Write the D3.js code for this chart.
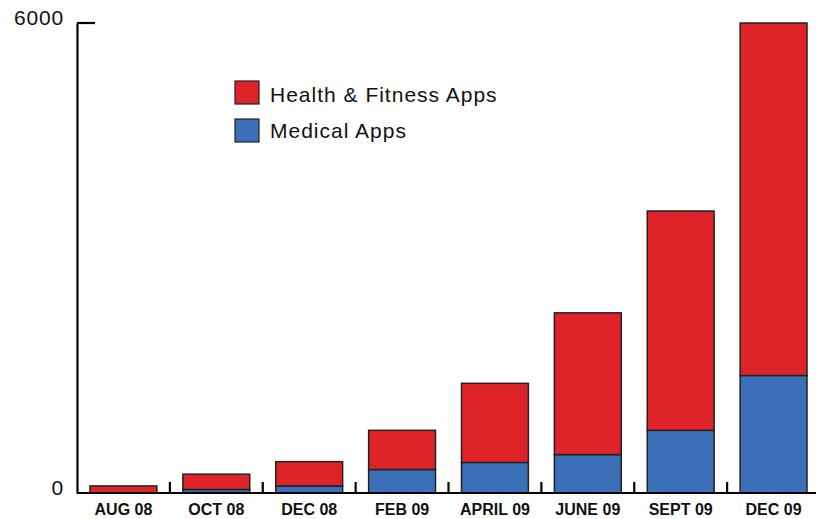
<!DOCTYPE html>
<html>
<head>
<meta charset="utf-8">
<script src="https://cdn.jsdelivr.net/npm/d3@7"></script>
<style>
  body { margin: 0; background: #fff; }
  svg { display: block; font-family: "Liberation Sans", Arial, sans-serif; }
</style>
</head>
<body>
<div id="chart"></div>
<script>
var width = 816,
    height = 519;

var months = ["AUG 08", "OCT 08", "DEC 08", "FEB 09", "APRIL 09", "JUNE 09", "SEPT 09", "DEC 09"];
var medical = [0, 45, 90, 300, 390, 490, 800, 1500];
var healthFitness = [90, 195, 310, 500, 1010, 1810, 2800, 4500];
var yTicks = [0, 6000];
var seriesNames = ["Health & Fitness Apps", "Medical Apps"];
var seriesColors = ["#df2429", "#3b70b9"];

var data = months.map(function (m, i) {
    return {month: m, medical: medical[i], health: healthFitness[i]};
});

var x = d3.scaleBand()
    .domain(months)
    .range([77, 820])
    .paddingInner(0.28)
    .paddingOuter(0.14);

var y = d3.scaleLinear()
    .domain([0, 6000])
    .range([493, 23]);

var svg = d3.select("#chart").append("svg")
    .attr("width", width)
    .attr("height", height);

var stack = d3.stack().keys(["medical", "health"])(data);
var colorFor = {medical: seriesColors[1], health: seriesColors[0]};

svg.selectAll("g.layer")
    .data(stack)
    .enter()
    .append("g")
    .attr("class", "layer")
    .style("fill", function (d) { return colorFor[d.key]; })
    .selectAll("rect")
    .data(function (d) { return d.filter(function (p) { return p[1] > p[0]; }); })
    .enter()
    .append("rect")
    .attr("x", function (d) { return x(d.data.month); })
    .attr("width", x.bandwidth())
    .attr("y", function (d) { return y(d[1]); })
    .attr("height", function (d) { return y(d[0]) - y(d[1]); })
    .attr("stroke", "#222")
    .attr("stroke-width", 1.5);

// y axis
var yAxis = svg.append("g").attr("transform", "translate(77,0)")
    .call(d3.axisLeft(y).tickValues(yTicks).tickFormat(d3.format("d")).tickSize(0).tickPadding(13));
yAxis.select(".domain").attr("stroke", "#000").attr("stroke-width", 2.2);
yAxis.selectAll("text")
    .attr("font-size", 21)
    .attr("fill", "#111")
    .attr("dy", "0.06em")
    .style("letter-spacing", "0.8px")
    .style("font-family", "Liberation Sans, Arial, sans-serif");

// top tick pointing right
svg.append("line")
    .attr("x1", 77).attr("x2", 95)
    .attr("y1", y(6000)).attr("y2", y(6000))
    .attr("stroke", "#000").attr("stroke-width", 2.2);

// x axis
var xAxis = svg.append("g").attr("transform", "translate(0," + y(0) + ")")
    .call(d3.axisBottom(x).tickSize(0).tickPadding(11));
xAxis.select(".domain").attr("d", "M77,0H816").attr("stroke", "#000").attr("stroke-width", 2.2);
xAxis.selectAll("text")
    .attr("font-size", 16)
    .attr("font-weight", "bold")
    .attr("fill", "#111")
    .style("font-family", "Liberation Sans, Arial, sans-serif");

// separator ticks between bars
var step = x.step();
svg.selectAll("line.sep")
    .data(months.slice(0, -1))
    .enter()
    .append("line")
    .attr("class", "sep")
    .attr("x1", function (d) { return x(d) + x.bandwidth() + (step - x.bandwidth()) / 2; })
    .attr("x2", function (d) { return x(d) + x.bandwidth() + (step - x.bandwidth()) / 2; })
    .attr("y1", y(0))
    .attr("y2", y(0) - 11)
    .attr("stroke", "#000")
    .attr("stroke-width", 2.2);

// legend
var legend = svg.selectAll("g.legend")
    .data(seriesNames)
    .enter()
    .append("g")
    .attr("class", "legend")
    .attr("transform", function (d, i) { return "translate(235," + (81 + i * 38) + ")"; });

legend.append("rect")
    .attr("width", 24)
    .attr("height", 23)
    .attr("fill", function (d, i) { return seriesColors[i]; })
    .attr("stroke", "#222")
    .attr("stroke-width", 1.2);

legend.append("text")
    .attr("x", 35)
    .attr("y", function (d, i) { return i === 0 ? 21 : 18.5; })
    .attr("font-size", 21)
    .attr("fill", "#111")
    .style("letter-spacing", "1px")
    .text(function (d) { return d; });
</script>
</body>
</html>
